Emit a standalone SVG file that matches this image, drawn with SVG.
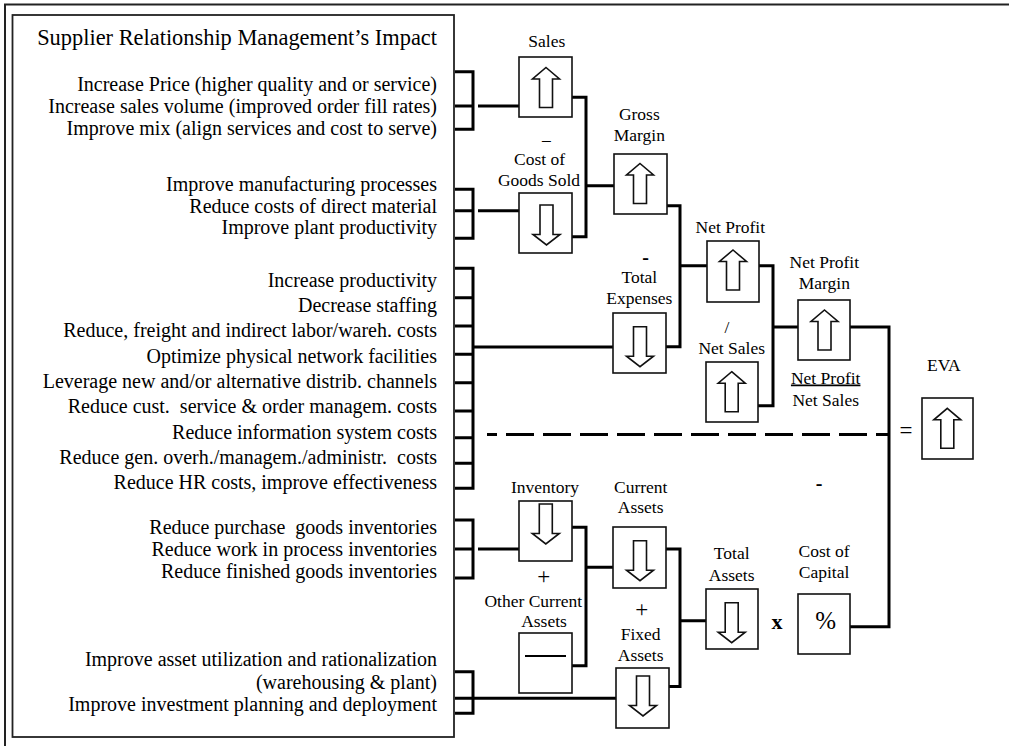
<svg xmlns="http://www.w3.org/2000/svg" width="1009" height="746" viewBox="0 0 1009 746">
<style>
text{font-family:"Liberation Serif","Times New Roman",serif;fill:#000}
.it{font-size:20px;text-anchor:end}
.lb{font-size:17.5px;text-anchor:middle}
.op{font-size:22px;text-anchor:middle}
.bx{fill:#fff;stroke:#111;stroke-width:1.6}
.ar{fill:#fff;stroke:#111;stroke-width:1.6;stroke-linejoin:miter}
.cn{fill:none;stroke:#000;stroke-width:3}
.br{fill:none;stroke:#000;stroke-width:3}
</style>
<defs>
<path id="up" d="M0,0 L13.5,11.5 L6.5,11.5 L6.5,40 L-6.5,40 L-6.5,11.5 L-13.5,11.5 Z"/>
<path id="dn" d="M-6.5,0 H6.5 V29.5 H13.5 L0,40 L-13.5,29.5 H-6.5 Z"/>
</defs>
<rect width="1009" height="746" fill="#fff"/>
<path d="M5,746 V4.5 H1009" fill="none" stroke="#222" stroke-width="2"/>

<g id="impact-panel">
<rect x="12.5" y="15" width="441.5" height="722" fill="#fff" stroke="#222" stroke-width="1.8"/>
<text x="437" y="45" style="font-size:22.4px;text-anchor:end">Supplier Relationship Management’s Impact</text>
<text class="it" x="437" y="91">Increase Price (higher quality and or service)</text>
<text class="it" x="437" y="113">Increase sales volume (improved order fill rates)</text>
<text class="it" x="437" y="135">Improve mix (align services and cost to serve)</text>
<text class="it" x="437" y="191">Improve manufacturing processes</text>
<text class="it" x="437" y="212.5">Reduce costs of direct material</text>
<text class="it" x="437" y="233.5">Improve plant productivity</text>
<text class="it" x="437" y="287">Increase productivity</text>
<text class="it" x="437" y="312.2">Decrease staffing</text>
<text class="it" x="437" y="337.4">Reduce, freight and indirect labor/wareh. costs</text>
<text class="it" x="437" y="362.6">Optimize physical network facilities</text>
<text class="it" x="437" y="387.8">Leverage new and/or alternative distrib. channels</text>
<text class="it" x="437" y="413" xml:space="preserve">Reduce cust.  service &amp; order managem. costs</text>
<text class="it" x="437" y="438.5">Reduce information system costs</text>
<text class="it" x="437" y="463.6" xml:space="preserve">Reduce gen. overh./managem./administr.  costs</text>
<text class="it" x="437" y="488.5">Reduce HR costs, improve effectiveness</text>
<text class="it" x="437" y="534" xml:space="preserve">Reduce purchase  goods inventories</text>
<text class="it" x="437" y="556">Reduce work in process inventories</text>
<text class="it" x="437" y="578">Reduce finished goods inventories</text>
<text class="it" x="437" y="666">Improve asset utilization and rationalization</text>
<text class="it" x="437" y="688.5">(warehousing &amp; plant)</text>
<text class="it" x="437" y="711">Improve investment planning and deployment</text>
</g>

<g id="connectors">
<path class="br" d="M455,71.7 H473 V129.3 H455 M455,106 H473"/>
<path class="br" d="M455,189.3 H473 V238.3 H455 M455,210.7 H473"/>
<path class="br" d="M455,268.3 H473 V488.3 H455 M455,297.7 H473 M455,326 H473 M455,354.3 H473 M455,382.7 H473 M455,411 H473 M455,437.7 H473 M455,463.3 H473"/>
<path class="br" d="M455,520 H473 V578 H455 M455,549 H473"/>
<path class="br" d="M455,671.7 H473 V713.3 H455 M455,698.3 H473"/>
<path class="cn" d="M478,106 H519"/>
<path class="cn" d="M478,210.7 H519"/>
<path class="cn" d="M473,347 H613"/>
<path class="cn" d="M478,549 H519"/>
<path class="cn" d="M473,698.3 H616"/>
<path class="cn" d="M572,97.3 H586 V236.7 H572 M586,185.7 H614"/>
<path class="cn" d="M667,205.7 H680 V346.7 H666 M680,265.7 H707"/>
<path class="cn" d="M759,265.7 H773 V405.7 H758 M773,327 H798"/>
<path class="cn" d="M850,327 H889 V626.7 H850"/>
<path class="cn" d="M572,527.3 H586 V665.7 H572 M586,567.3 H613"/>
<path class="cn" d="M666,549 H680 V686.5 H669 M680,620.7 H706"/>
<path d="M487,434.5 H889" fill="none" stroke="#000" stroke-width="3.2" stroke-dasharray="28 9" stroke-dashoffset="18"/>
</g>

<g id="sales">
<text class="lb" x="546.8" y="46.7">Sales</text>
<rect class="bx" x="519" y="57" width="53" height="60"/>
<use href="#up" class="ar" x="546" y="67.5"/>
</g>
<g id="cogs">
<text class="lb" x="539.5" y="165">Cost of</text>
<text class="lb" x="539" y="185.5">Goods Sold</text>
<rect class="bx" x="519" y="193" width="53" height="60"/>
<use href="#dn" class="ar" x="546.5" y="205"/>
</g>
<g id="gross-margin">
<text class="lb" x="639.3" y="120">Gross</text>
<text class="lb" x="639.3" y="140.7">Margin</text>
<rect class="bx" x="614" y="154" width="53" height="60"/>
<use href="#up" class="ar" x="640" y="163.5"/>
</g>
<g id="net-profit">
<text class="lb" x="730.3" y="232.7">Net Profit</text>
<rect class="bx" x="707" y="241" width="52" height="61"/>
<use href="#up" class="ar" x="733" y="250"/>
</g>
<g id="total-expenses">
<text class="lb" x="639.3" y="283.3">Total</text>
<text class="lb" x="639.3" y="304">Expenses</text>
<rect class="bx" x="613" y="313" width="53" height="60"/>
<use href="#dn" class="ar" x="640" y="326.7"/>
</g>
<g id="net-sales">
<text class="lb" x="731.7" y="354">Net Sales</text>
<rect class="bx" x="706" y="362" width="52" height="60"/>
<use href="#up" class="ar" x="731.7" y="371.7"/>
</g>
<g id="net-profit-margin">
<text class="lb" x="824.3" y="268.3">Net Profit</text>
<text class="lb" x="824.3" y="289.3">Margin</text>
<rect class="bx" x="798" y="300" width="52" height="60"/>
<use href="#up" class="ar" x="824.5" y="310"/>
<text class="lb" x="825.7" y="383.5" text-decoration="underline">Net Profit</text>
<text class="lb" x="825.7" y="406">Net Sales</text>
</g>
<g id="eva">
<text class="lb" x="943.8" y="370.7">EVA</text>
<rect class="bx" x="922" y="398" width="51" height="61"/>
<use href="#up" class="ar" x="947.3" y="408.3"/>
</g>
<g id="inventory">
<text class="lb" x="545" y="492.7">Inventory</text>
<rect class="bx" x="519" y="501" width="53" height="60"/>
<use href="#dn" class="ar" x="545.8" y="504"/>
</g>
<g id="other-current-assets">
<text class="lb" x="533.3" y="606.7">Other Current</text>
<text class="lb" x="544" y="627.3">Assets</text>
<rect class="bx" x="519" y="633" width="53" height="60"/>
<line x1="525" y1="656" x2="566" y2="656" stroke="#000" stroke-width="2"/>
</g>
<g id="current-assets">
<text class="lb" x="640.7" y="493.3">Current</text>
<text class="lb" x="640.7" y="513.3">Assets</text>
<rect class="bx" x="613" y="527" width="53" height="61"/>
<use href="#dn" class="ar" x="640" y="540.7"/>
</g>
<g id="fixed-assets">
<text class="lb" x="640.7" y="640">Fixed</text>
<text class="lb" x="640.7" y="660.7">Assets</text>
<rect class="bx" x="616" y="668" width="53" height="60"/>
<use href="#dn" class="ar" x="643" y="676"/>
</g>
<g id="total-assets">
<text class="lb" x="731.7" y="559.3">Total</text>
<text class="lb" x="731.7" y="580.7">Assets</text>
<rect class="bx" x="706" y="589" width="52" height="60"/>
<use href="#dn" class="ar" x="731.7" y="602.7"/>
</g>
<g id="cost-of-capital">
<text class="lb" x="824" y="556.7">Cost of</text>
<text class="lb" x="824" y="577.7">Capital</text>
<rect class="bx" x="798" y="594" width="52" height="60"/>
<text x="825.7" y="628.5" style="font-size:25px;text-anchor:middle">%</text>
</g>

<g id="operators">
<text class="lb" x="546.3" y="145">–</text>
<text x="645.5" y="264" style="font-size:20px;font-weight:bold;text-anchor:middle">-</text>
<text class="lb" x="727" y="333">/</text>
<text x="906" y="437.5" style="font-size:23px;text-anchor:middle">=</text>
<text x="819" y="490" style="font-size:20px;font-weight:bold;text-anchor:middle">-</text>
<text x="543.7" y="583.5" style="font-size:23px;text-anchor:middle">+</text>
<text x="641.7" y="616.5" style="font-size:23px;text-anchor:middle">+</text>
<text x="777" y="629" style="font-size:22px;font-weight:bold;text-anchor:middle">x</text>
</g>
</svg>
